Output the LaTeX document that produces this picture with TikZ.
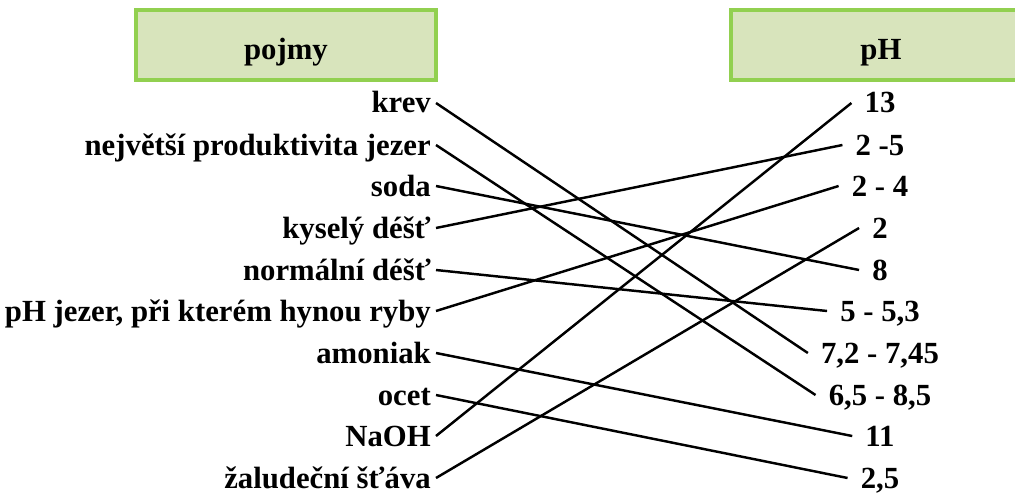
\documentclass[tikz,border=0pt]{standalone}
\usepackage{fontspec}
\setmainfont{Liberation Serif}
\definecolor{green1}{RGB}{146, 208, 80}
\definecolor{green2}{RGB}{216, 228, 188}

\begin{document}
\begin{tikzpicture}[x=0.02cm, y=-0.02cm, line width=1.4pt,
  head/.style={draw=green1, fill=green2, line width=2pt, minimum width=6cm,
    minimum height=1.4cm, inner sep=0pt, text height=0.6cm, text depth=0pt,
    font=\fontsize{17.5}{20}\selectfont\bfseries},
  term/.style={anchor=east, inner xsep=0.08cm, inner ysep=0pt, text height=0.5cm,
    text depth=0.1cm, font=\fontsize{17.5}{20}\selectfont\bfseries},
  val/.style={inner xsep=0.24cm, inner ysep=0pt, text height=0.5cm,
    text depth=0.1cm, font=\fontsize{17.5}{20}\selectfont\bfseries}]
  \useasboundingbox (0,0) rectangle (1015,494);

  \node[head] (h1) at (286,45) {pojmy};
  \node[head] (h2) at (881,45) {pH};

  \node[term] (c1) at (436,103) {krev};
  \node[term] (c2) at (436,145) {největší produktivita jezer};
  \node[term] (c3) at (436,186) {soda};
  \node[term] (c4) at (436,228) {kyselý déšť};
  \node[term] (c5) at (436,270) {normální déšť};
  \node[term] (c6) at (436,311) {pH jezer, při kterém hynou ryby};
  \node[term] (c7) at (436,353) {amoniak};
  \node[term] (c8) at (436,395) {ocet};
  \node[term] (c9) at (436,436) {NaOH};
  \node[term] (c10) at (436,478) {žaludeční šťáva};

  \node[val] (p1) at (880,103) {13};
  \node[val] (p2) at (880,145) {2 -5};
  \node[val] (p3) at (880,186) {2 - 4};
  \node[val] (p4) at (880,228) {2};
  \node[val] (p5) at (880,270) {8};
  \node[val] (p6) at (880,311) {5 - 5,3};
  \node[val] (p7) at (880,353) {7,2 - 7,45};
  \node[val] (p8) at (880,395) {6,5 - 8,5};
  \node[val] (p9) at (880,436) {11};
  \node[val] (p10) at (880,478) {2,5};

  \foreach \from/\to in {c1/p7, c2/p8, c3/p5, c4/p2, c5/p6, c6/p3, c7/p9, c8/p10, c9/p1, c10/p4}
   \draw (\from.east) -- (\to.west);
\end{tikzpicture}
\end{document}
